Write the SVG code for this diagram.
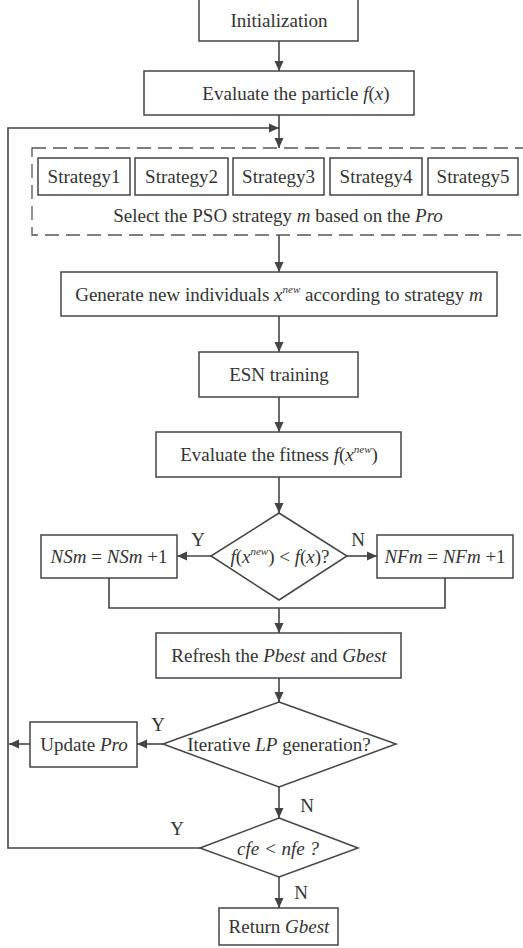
<svg xmlns="http://www.w3.org/2000/svg" width="523" height="948" viewBox="0 0 523 948" font-family="Liberation Serif, Times New Roman, Times, DejaVu Serif, Noto Serif, serif">
<style>
.b{fill:#fff;stroke:#444;stroke-width:1.5}
.l{fill:none;stroke:#444;stroke-width:1.6}
.a{fill:none;stroke:#444;stroke-width:1.6;marker-end:url(#ah)}
text{font-family:'Liberation Serif','Times New Roman',Times,'DejaVu Serif','Noto Serif',serif;font-size:19px;fill:#333;text-anchor:middle}
.i{font-style:italic}
.s{font-size:11px;font-style:italic}
</style>
<defs>
<marker id="ah" viewBox="0 0 10 10" refX="10" refY="5" markerWidth="10" markerHeight="10" markerUnits="userSpaceOnUse" orient="auto">
<path d="M0,0.5 L10,5 L0,9.5 z" fill="#444"/>
</marker>
</defs>
<rect width="523" height="948" fill="#fff"/>
<g id="connectors">
<line class="a" x1="279" y1="41" x2="279" y2="71"/>
<line class="a" x1="279" y1="115" x2="279" y2="148"/>
<polyline class="a" points="200,848 8,848 8,128 279,128"/>
<line class="a" x1="279" y1="235" x2="279" y2="272"/>
<line class="a" x1="279" y1="316" x2="279" y2="352"/>
<line class="a" x1="279" y1="397" x2="279" y2="432"/>
<line class="a" x1="279" y1="477" x2="279" y2="513"/>
<line class="a" x1="211" y1="556" x2="177" y2="556"/>
<line class="a" x1="347" y1="556" x2="377" y2="556"/>
<polyline class="l" points="109,578 109,608 445,608 445,578"/>
<line class="a" x1="279" y1="608" x2="279" y2="633"/>
<line class="a" x1="279" y1="678" x2="279" y2="702"/>
<line class="a" x1="163" y1="744" x2="137" y2="744"/>
<line class="a" x1="30" y1="744" x2="9" y2="744"/>
<line class="a" x1="279" y1="787" x2="279" y2="818"/>
<line class="a" x1="279" y1="877" x2="279" y2="908"/>
<text x="198" y="546">Y</text>
<text x="358" y="546">N</text>
<text x="158" y="731">Y</text>
<text x="307" y="812">N</text>
<text x="177" y="835">Y</text>
<text x="301" y="899">N</text>
</g>
<g id="init">
<rect class="b" x="199" y="-1" width="159" height="42"/>
<text x="279" y="27">Initialization</text>
</g>
<g id="evalParticle">
<rect class="b" x="144" y="71" width="270" height="44"/>
<text x="296" y="99.5">Evaluate the particle <tspan class="i">f</tspan>(<tspan class="i">x</tspan>)</text>
</g>
<g id="strategyGroup">
<rect x="32" y="148" width="495" height="87" fill="none" stroke="#555" stroke-width="1.3" stroke-dasharray="14 7"/>
<rect class="b" x="38" y="158" width="92" height="37"/>
<text x="84" y="183">Strategy1</text>
<rect class="b" x="135" y="158" width="93" height="37"/>
<text x="181.5" y="183">Strategy2</text>
<rect class="b" x="233" y="158" width="91" height="37"/>
<text x="278.5" y="183">Strategy3</text>
<rect class="b" x="330" y="158" width="92" height="37"/>
<text x="376" y="183">Strategy4</text>
<rect class="b" x="428" y="158" width="90" height="37"/>
<text x="473" y="183">Strategy5</text>
<text x="278" y="221.5">Select the PSO strategy <tspan class="i">m</tspan> based on the <tspan class="i">Pro</tspan></text>
</g>
<g id="generate">
<rect class="b" x="61" y="272" width="436" height="44"/>
<text x="279" y="300.5">Generate new individuals <tspan class="i">x</tspan><tspan class="s" dy="-8">new</tspan><tspan dy="8"> according to strategy </tspan><tspan class="i">m</tspan></text>
</g>
<g id="esn">
<rect class="b" x="199" y="352" width="159" height="45"/>
<text x="279" y="381">ESN training</text>
</g>
<g id="evalFitness">
<rect class="b" x="156" y="432" width="245" height="45"/>
<text x="279" y="461">Evaluate the fitness <tspan class="i">f</tspan>(<tspan class="i">x</tspan><tspan class="s" dy="-8">new</tspan><tspan dy="8">)</tspan></text>
</g>
<g id="decision1">
<polygon class="b" points="279,513 347,556 279,600 211,556"/>
<text x="280" y="562.5"><tspan class="i">f</tspan>(<tspan class="i">x</tspan><tspan class="s" dy="-8">new</tspan><tspan dy="8">) &lt; </tspan><tspan class="i">f</tspan>(<tspan class="i">x</tspan>)?</text>
</g>
<g id="nsm">
<rect class="b" x="41" y="535" width="136" height="43"/>
<text x="109" y="563"><tspan class="i">NSm</tspan> = <tspan class="i">NSm</tspan> +1</text>
</g>
<g id="nfm">
<rect class="b" x="377" y="535" width="136" height="43"/>
<text x="445" y="563"><tspan class="i">NFm</tspan> = <tspan class="i">NFm</tspan> +1</text>
</g>
<g id="refresh">
<rect class="b" x="156" y="633" width="245" height="45"/>
<text x="279" y="662">Refresh the <tspan class="i">Pbest</tspan> and <tspan class="i">Gbest</tspan></text>
</g>
<g id="decision2">
<polygon class="b" points="279,702 396,744 279,787 163,744"/>
<text x="279" y="750.5">Iterative <tspan class="i">LP</tspan> generation?</text>
</g>
<g id="updatePro">
<rect class="b" x="30" y="722" width="107" height="45"/>
<text x="84" y="751">Update <tspan class="i">Pro</tspan></text>
</g>
<g id="decision3">
<polygon class="b" points="279,818 358,848 279,877 200,848"/>
<text x="278" y="854.5" class="i">cfe &lt; nfe ?</text>
</g>
<g id="returnG">
<rect class="b" x="219" y="908" width="119" height="37"/>
<text x="279" y="933">Return <tspan class="i">Gbest</tspan></text>
</g>
</svg>
